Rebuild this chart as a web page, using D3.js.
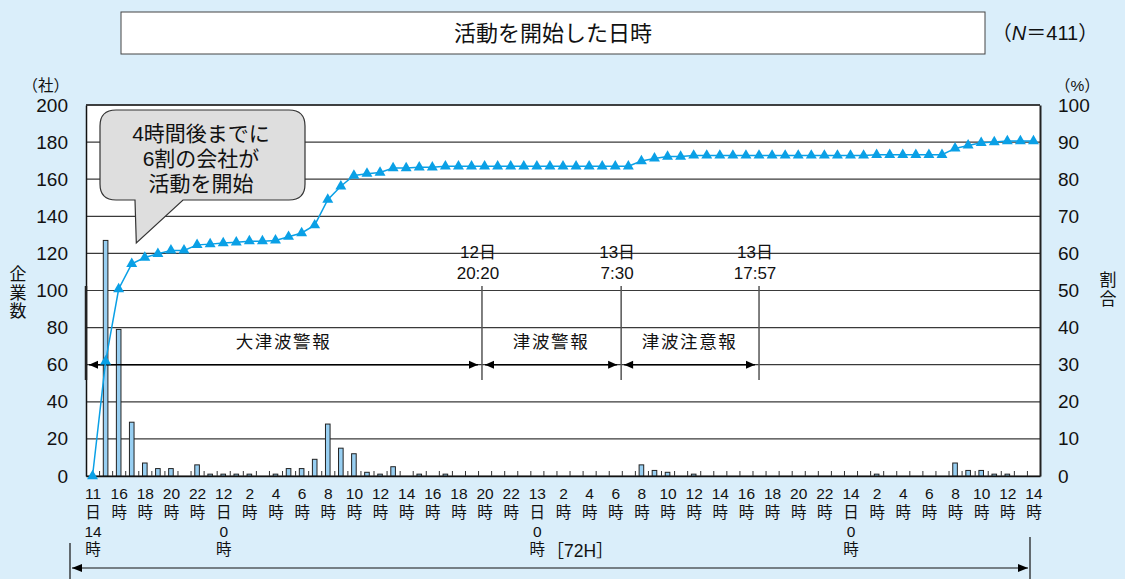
<!DOCTYPE html>
<html><head><meta charset="utf-8">
<script src="https://cdn.jsdelivr.net/npm/d3@7"></script>
<style>
html,body{margin:0;padding:0;background:#daeefa;}
svg{display:block;}
text{font-family:"Liberation Sans","Noto Sans CJK JP",sans-serif;fill:#111;}
</style></head><body>
<svg id="chart" width="1125" height="579"></svg>
<script>
// Companies that started activity in each hour, from 11日14時 (slot 0) to 14日14時 (slot 72)
const arrivals = [0,127,79,29,7,4,4,0,6,1,1,1,1,0,1,4,4,9,28,15,12,2,1,5,0,1,0,1,
  0,0,0,0,0,0,0,0,0,0,0,0,0,0,
  6,3,2,0,1,
  0,0,0,0,0,0,0,0,0,0,0,0,0,
  1,
  0,0,0,0,0,
  7,3,3,1,1,0,0];

// Cumulative share of all companies (%, N=411)
const cumulativeShare = [0,30.9,50.4,57.2,58.9,59.9,60.8,60.8,62.3,62.5,62.8,63.0,63.3,63.3,63.5,64.5,65.5,67.6,74.5,78.1,81.0,81.5,81.8,83.0,83.0,83.2,83.2,83.5,
  83.5,83.5,83.5,83.5,83.5,83.5,83.5,83.5,83.5,83.5,83.5,83.5,83.5,83.5,
  84.9,85.6,86.1,86.1,86.4,
  86.4,86.4,86.4,86.4,86.4,86.4,86.4,86.4,86.4,86.4,86.4,86.4,86.4,
  86.6,
  86.6,86.6,86.6,86.6,86.6,
  88.3,89.1,89.8,90.0,90.3,90.3,90.3];

// Labels for every second hour slot
const tickLabels = ["11\n日\n14\n時","16\n時","18\n時","20\n時","22\n時","12\n日\n0\n時",
  "2\n時","4\n時","6\n時","8\n時","10\n時","12\n時","14\n時","16\n時","18\n時","20\n時","22\n時",
  "13\n日\n0\n時","2\n時","4\n時","6\n時","8\n時","10\n時","12\n時","14\n時","16\n時","18\n時","20\n時","22\n時",
  "14\n日\n0\n時","2\n時","4\n時","6\n時","8\n時","10\n時","12\n時","14\n時"];

const countTicks = [0,20,40,60,80,100,120,140,160,180,200];
const shareTicks = [0,10,20,30,40,50,60,70,80,90,100];

// Warning periods: names and boundaries (hour slots from 11日14時)
const alertNames = ["大津波警報","津波警報","津波注意報"];
const alertBounds = [-0.5, 29.8, 40.45, 51.0];
const boundLabels = ["", "12日\n20:20", "13日\n7:30", "13日\n17:57"];

const svg = d3.select("#chart");
const plot = {left:86, right:1040, top:105, bottom:476};

const slots = d3.range(arrivals.length);
const x = d3.scaleLinear().domain([-0.5, arrivals.length - 0.5]).range([plot.left, plot.right]);
const yCount = d3.scaleLinear().domain([0,200]).range([plot.bottom, plot.top]);
const yShare = d3.scaleLinear().domain([0,100]).range([plot.bottom, plot.top]);

// Title box
svg.append("rect").attr("x",121).attr("y",12).attr("width",864).attr("height",42)
  .attr("fill","#fff").attr("stroke","#444").attr("stroke-width",1);
svg.append("text").attr("x",553).attr("y",33).attr("text-anchor","middle")
  .attr("dominant-baseline","central").attr("font-size",22).text("活動を開始した日時");
const nText = svg.append("text").attr("x",1045).attr("y",33).attr("text-anchor","middle")
  .attr("dominant-baseline","central").attr("font-size",20);
nText.append("tspan").text("（");
nText.append("tspan").attr("font-style","italic").text("N");
nText.append("tspan").text("＝411）");

// Plot area
svg.append("rect").attr("x",plot.left).attr("y",plot.top)
  .attr("width",plot.right-plot.left).attr("height",plot.bottom-plot.top).attr("fill","#fff");

// Horizontal gridlines
svg.append("g").selectAll("line").data(countTicks).join("line")
  .attr("x1",plot.left).attr("x2",plot.right)
  .attr("y1",d=>yCount(d)).attr("y2",d=>yCount(d))
  .attr("stroke","#3a3a3a").attr("stroke-width",1.2);

// Bars
svg.append("g").selectAll("rect").data(slots.filter(i=>arrivals[i]>0)).join("rect")
  .attr("x",i=>x(i)-2.3).attr("width",4.6)
  .attr("y",i=>yCount(arrivals[i])).attr("height",i=>yCount(0)-yCount(arrivals[i]))
  .attr("fill","#98cff2").attr("stroke","#222").attr("stroke-width",1);

// Slot boundary ticks on the baseline
const tickAxis = d3.axisBottom(x).tickValues(slots.slice(0,-1).map(i=>i+0.5))
  .tickSizeInner(-5).tickSizeOuter(0).tickFormat("");
const tg = svg.append("g").attr("transform",`translate(0,${plot.bottom})`).call(tickAxis);
tg.select(".domain").attr("stroke","#111").attr("stroke-width",1.5);
tg.selectAll(".tick line").attr("stroke","#333");

// X labels (every second slot), stacked vertically
const labelSlots = slots.filter(i=>i%2===0);
const xAxis = d3.axisBottom(x).tickValues(labelSlots).tickSize(0).tickFormat("");
const xg = svg.append("g").attr("transform",`translate(0,${plot.bottom})`).call(xAxis);
xg.select(".domain").remove();
xg.selectAll(".tick").each(function(d,k){
  const t = d3.select(this).append("text").attr("text-anchor","middle").attr("font-size",15.5).attr("fill","#111");
  tickLabels[k].split("\n").forEach((s,j)=>{
    t.append("tspan").attr("x",0).attr("y",23+j*18.8).text(s);
  });
});

// Left and right value axes
const leftAxis = d3.axisLeft(yCount).tickValues(countTicks).tickSize(0).tickPadding(18);
const lg = svg.append("g").attr("transform",`translate(${plot.left},0)`).call(leftAxis);
lg.select(".domain").attr("stroke","#111").attr("stroke-width",1.5);
lg.selectAll("text").attr("font-size",19).attr("font-family","Liberation Sans").attr("fill","#111");

const rightAxis = d3.axisRight(yShare).tickValues(shareTicks).tickSize(0).tickPadding(18);
const rg = svg.append("g").attr("transform",`translate(${plot.right},0)`).call(rightAxis);
rg.select(".domain").attr("stroke","#222").attr("stroke-width",2);
rg.selectAll("text").attr("font-size",19).attr("font-family","Liberation Sans").attr("fill","#111");

// Top border
svg.append("line").attr("x1",plot.left).attr("x2",plot.right).attr("y1",plot.top).attr("y2",plot.top)
  .attr("stroke","#222").attr("stroke-width",1.5);

// Axis captions
svg.append("text").attr("x",69).attr("y",85).attr("text-anchor","end")
  .attr("dominant-baseline","central").attr("font-size",15.5).text("（社）");
svg.append("text").attr("x",1055).attr("y",85).attr("text-anchor","start")
  .attr("dominant-baseline","central").attr("font-size",15.5).text("（%）");
const leftCap = svg.append("text").attr("text-anchor","middle").attr("font-size",17);
["企","業","数"].forEach((c,j)=>leftCap.append("tspan").attr("x",18).attr("y",280+j*18.5).text(c));
const rightCap = svg.append("text").attr("text-anchor","middle").attr("font-size",17);
["割","合"].forEach((c,j)=>rightCap.append("tspan").attr("x",1108).attr("y",286+j*18.5).text(c));

// Warning periods
const ag = svg.append("g");
const arrowY = yCount(60);
alertBounds.forEach((b,k)=>{
  const bx = x(b);
  ag.append("line").attr("x1",bx).attr("x2",bx).attr("y1",286).attr("y2",380)
    .attr("stroke", k===0 ? "#222" : "#555").attr("stroke-width", k===0 ? 2.5 : 1.5);
  if (boundLabels[k]) {
    const t = ag.append("text").attr("text-anchor","middle").attr("font-size",17);
    boundLabels[k].split("\n").forEach((s,j)=>{
      t.append("tspan").attr("x",bx-4).attr("y",258+j*21).text(s);
    });
  }
});
function arrowHead(tipX, y, dir){
  ag.append("path").attr("d",`M${tipX},${y} L${tipX-dir*9},${y-4} L${tipX-dir*9},${y+4} Z`).attr("fill","#000");
}
alertNames.forEach((name,k)=>{
  const a = x(alertBounds[k]) + 3, b = x(alertBounds[k+1]) - 4;
  ag.append("line").attr("x1",a).attr("x2",b).attr("y1",arrowY).attr("y2",arrowY)
    .attr("stroke","#000").attr("stroke-width",1.5);
  arrowHead(a, arrowY, -1);
  arrowHead(b, arrowY, 1);
  ag.append("text").attr("x",(a+b)/2).attr("y",arrowY-23).attr("text-anchor","middle")
    .attr("dominant-baseline","central").attr("font-size",17.5).attr("letter-spacing",1.6).text(name);
});

// Cumulative share line with triangle markers
svg.append("path").datum(slots)
  .attr("d", d3.line().x(i=>x(i)).y(i=>yShare(cumulativeShare[i])))
  .attr("fill","none").attr("stroke","#0aa0e6").attr("stroke-width",1.5);
svg.append("g").selectAll("path").data(slots).join("path")
  .attr("transform",i=>`translate(${x(i)},${yShare(cumulativeShare[i])})`)
  .attr("d", d3.symbol(d3.symbolTriangle, 52))
  .attr("fill","#0aa0e6");

// Callout
const tipX = x(3.35), tipY = yShare(62.8);
const callout = `M116,110 H289 Q305,110 305,126 V184 Q305,200 289,200 H183 L${tipX},${tipY} L135,200 H116 Q100,200 100,184 V126 Q100,110 116,110 Z`;
svg.append("path").attr("d",callout).attr("fill","#dedede").attr("stroke","#333").attr("stroke-width",1.2);
["4時間後までに","6割の会社が","活動を開始"].forEach((s,j)=>{
  svg.append("text").attr("x",201).attr("y",133+j*25).attr("text-anchor","middle")
    .attr("dominant-baseline","central").attr("font-size",21).text(s);
});

// 72-hour span
const sg = svg.append("g");
sg.append("line").attr("x1",70).attr("x2",70).attr("y1",543).attr("y2",579).attr("stroke","#111").attr("stroke-width",1.2);
sg.append("line").attr("x1",1030).attr("x2",1030).attr("y1",537).attr("y2",579).attr("stroke","#111").attr("stroke-width",1.2);
sg.append("line").attr("x1",72).attr("x2",1028).attr("y1",568).attr("y2",568).attr("stroke","#111").attr("stroke-width",1.2);
sg.append("path").attr("d","M72,568 L82,564 L82,572 Z").attr("fill","#000");
sg.append("path").attr("d","M1028,568 L1018,564 L1018,572 Z").attr("fill","#000");
sg.append("text").attr("x",580).attr("y",551).attr("text-anchor","middle")
  .attr("dominant-baseline","central").attr("font-size",17.5).text("［72H］");
</script>
</body></html>
